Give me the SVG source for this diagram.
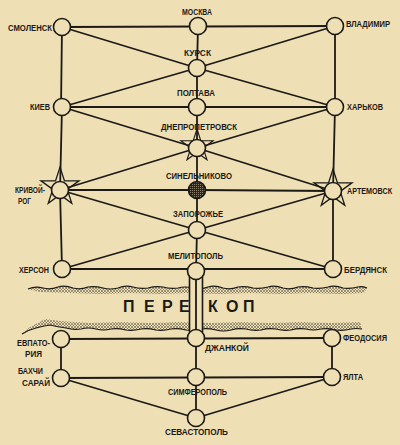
<svg xmlns="http://www.w3.org/2000/svg" width="400" height="445" viewBox="0 0 400 445">
<style>
.bg{fill:#eedfb5}
.ln{stroke:#1c1a16;stroke-width:1.8;fill:none;stroke-linecap:round}
.nd{fill:#eedfb5;stroke:#1c1a16;stroke-width:1.6}
.st{fill:none;stroke:#1c1a16;stroke-width:1.3;stroke-linejoin:miter}
.lb{font-family:"Liberation Sans",Arial,sans-serif;font-weight:bold;font-size:9px;fill:#1c1a16}
.big{font-family:"Liberation Sans",Arial,sans-serif;font-weight:bold;font-size:16px;fill:#1c1a16}
.shore{stroke:#1c1a16;stroke-width:1.2;fill:none}
.hat{fill:url(#hatch);stroke:none;opacity:0.85}
</style>
<defs>
<pattern id="hatch" width="3" height="3" patternUnits="userSpaceOnUse">
<path d="M0,3 L3,0 M0,0 L3,3" stroke="#4a4438" stroke-width="0.6"/>
</pattern>
<pattern id="mesh" width="2" height="2" patternUnits="userSpaceOnUse">
<rect width="2" height="2" fill="#2a2622"/>
<rect width="1" height="1" fill="#8a8070"/>
</pattern>
<polygon id="star" points="0,-20 4.47,-6.15 19.02,-6.18 7.23,2.35 11.76,16.18 0,7.6 -11.76,16.18 -7.23,2.35 -19.02,-6.18 -4.47,-6.15"/>
</defs>
<rect class="bg" x="0" y="0" width="400" height="445"/>

<g id="perekop">
<path class="hat" d="M28,289 Q35,286 43,288 Q50,290 58,287 Q65,285 73,288 Q80,290 88,287 Q95,286 103,288 Q110,290 118,288 Q125,285 133,287 Q140,289 148,288 Q155,286 163,287 Q170,289 178,288 Q185,286 193,288 Q200,290 208,287 Q215,285 223,288 Q230,290 238,287 Q245,286 253,288 Q260,289 268,287 Q275,285 283,288 Q290,290 298,287 Q305,286 313,288 Q320,289 328,287 Q335,285 343,288 Q350,289 358,287 Q362,286 367,288 L364,293 L340,294 L310,293 L280,294 L250,293 L220,294 L190,293 L160,294 L130,293 L100,294 L70,293 L40,292 Z"/>
<path class="shore" d="M28,289 Q35,286 43,288 Q50,290 58,287 Q65,285 73,288 Q80,290 88,287 Q95,286 103,288 Q110,290 118,288 Q125,285 133,287 Q140,289 148,288 Q155,286 163,287 Q170,289 178,288 Q185,286 193,288 Q200,290 208,287 Q215,285 223,288 Q230,290 238,287 Q245,286 253,288 Q260,289 268,287 Q275,285 283,288 Q290,290 298,287 Q305,286 313,288 Q320,289 328,287 Q335,285 343,288 Q350,289 358,287 Q362,286 367,288"/>
<path class="hat" d="M22,334 Q28,330 36,328 Q43,326 50,325 Q58,327 66,328 Q73,330 81,329 Q88,327 96,329 Q103,331 111,329 Q118,328 126,330 Q133,331 141,329 Q148,328 156,330 Q163,331 171,329 Q178,328 186,330 Q193,331 201,329 Q208,328 216,330 Q223,332 231,330 Q238,328 246,329 Q253,331 261,330 Q268,328 276,329 Q283,331 291,330 Q298,328 306,329 Q313,331 321,329 Q328,328 336,330 Q343,331 351,329 Q356,328 362,329 L360,322 L330,323 L300,322 L270,323 L240,322 L210,323 L180,322 L150,323 L120,322 L90,323 L60,321 L45,319 L30,327 Z"/>
<path class="shore" d="M22,334 Q28,330 36,328 Q43,326 50,325 Q58,327 66,328 Q73,330 81,329 Q88,327 96,329 Q103,331 111,329 Q118,328 126,330 Q133,331 141,329 Q148,328 156,330 Q163,331 171,329 Q178,328 186,330 Q193,331 201,329 Q208,328 216,330 Q223,332 231,330 Q238,328 246,329 Q253,331 261,330 Q268,328 276,329 Q283,331 291,330 Q298,328 306,329 Q313,331 321,329 Q328,328 336,330 Q343,331 351,329 Q356,328 362,329"/>
<text class="big" x="123 144 162 179 208 226 243" y="312">ПЕРЕКОП</text>
</g>

<g id="connectors">
<line class="ln" x1="62" y1="27" x2="335" y2="26"/>
<line class="ln" x1="62" y1="27" x2="197" y2="68"/>
<line class="ln" x1="335" y1="26" x2="197" y2="68"/>
<line class="ln" x1="62" y1="107" x2="197" y2="68"/>
<line class="ln" x1="335" y1="107" x2="197" y2="68"/>
<line class="ln" x1="62" y1="107" x2="335" y2="107"/>
<line class="ln" x1="62" y1="107" x2="197" y2="148"/>
<line class="ln" x1="335" y1="107" x2="197" y2="148"/>
<line class="ln" x1="62" y1="27" x2="61" y2="107"/>
<line class="ln" x1="62" y1="107" x2="60" y2="190"/>
<line class="ln" x1="60" y1="190" x2="62" y2="269"/>
<line class="ln" x1="335" y1="26" x2="335" y2="107"/>
<line class="ln" x1="335" y1="107" x2="333" y2="191"/>
<line class="ln" x1="333" y1="191" x2="333" y2="269"/>
<line class="ln" x1="198" y1="26" x2="197" y2="68"/>
<line class="ln" x1="197" y1="68" x2="197" y2="230"/>
<line class="ln" x1="197" y1="230" x2="196" y2="271"/>
<line class="ln" x1="60" y1="190" x2="197" y2="148"/>
<line class="ln" x1="60" y1="190" x2="197" y2="190"/>
<line class="ln" x1="60" y1="190" x2="197" y2="230"/>
<line class="ln" x1="333" y1="191" x2="197" y2="148"/>
<line class="ln" x1="333" y1="191" x2="197" y2="190"/>
<line class="ln" x1="333" y1="191" x2="197" y2="230"/>
<line class="ln" x1="62" y1="269" x2="197" y2="230"/>
<line class="ln" x1="333" y1="269" x2="197" y2="230"/>
<line class="ln" x1="62" y1="269" x2="333" y2="269"/>
<rect x="189.5" y="271" width="13" height="67" rx="6.5" fill="#eedfb5" stroke="#1c1a16" stroke-width="1.6"/>
<line class="ln" x1="196" y1="271" x2="196" y2="338"/>
<line class="ln" x1="61" y1="339" x2="332" y2="338"/>
<line class="ln" x1="61" y1="339" x2="61" y2="378"/>
<line class="ln" x1="332" y1="338" x2="332" y2="377"/>
<line class="ln" x1="196" y1="338" x2="196" y2="418"/>
<line class="ln" x1="61" y1="378" x2="332" y2="377"/>
<line class="ln" x1="61" y1="378" x2="196" y2="418"/>
<line class="ln" x1="332" y1="377" x2="196" y2="418"/>
</g>

<g id="smolensk"><circle class="nd" cx="62" cy="27" r="8.5"/><text class="lb" x="8" y="31" textLength="44" lengthAdjust="spacingAndGlyphs">СМОЛЕНСК</text></g>
<g id="moskva"><circle class="nd" cx="198" cy="26" r="8.5"/><text class="lb" x="182" y="15" textLength="30" lengthAdjust="spacingAndGlyphs">МОСКВА</text></g>
<g id="vladimir"><circle class="nd" cx="335" cy="26" r="8.5"/><text class="lb" x="346" y="27" textLength="44" lengthAdjust="spacingAndGlyphs">ВЛАДИМИР</text></g>
<g id="kursk"><circle class="nd" cx="197" cy="68" r="8.5"/><text class="lb" x="184" y="56" textLength="27" lengthAdjust="spacingAndGlyphs">КУРСК</text></g>
<g id="kiev"><circle class="nd" cx="62" cy="107" r="8.5"/><text class="lb" x="30" y="110" textLength="20" lengthAdjust="spacingAndGlyphs">КИЕВ</text></g>
<g id="poltava"><circle class="nd" cx="197" cy="107" r="8.5"/><text class="lb" x="177" y="96" textLength="38" lengthAdjust="spacingAndGlyphs">ПОЛТАВА</text></g>
<g id="kharkov"><circle class="nd" cx="335" cy="107" r="8.5"/><text class="lb" x="347" y="110" textLength="36" lengthAdjust="spacingAndGlyphs">ХАРЬКОВ</text></g>
<g id="dnepropetrovsk"><use href="#star" class="st" transform="translate(197,146) scale(0.85)"/><circle class="nd" cx="197" cy="148" r="8.5"/><text class="lb" x="161" y="130" textLength="76" lengthAdjust="spacingAndGlyphs">ДНЕПРОПЕТРОВСК</text></g>
<g id="krivoy-rog"><use href="#star" class="st" transform="translate(60,187)"/><circle class="nd" cx="60" cy="190" r="8.5"/><text class="lb" x="15" y="193" textLength="30" lengthAdjust="spacingAndGlyphs">КРИВОЙ-</text><text class="lb" x="18" y="204" textLength="13" lengthAdjust="spacingAndGlyphs">РОГ</text></g>
<g id="sinelnikovo"><circle cx="197" cy="190" r="8.5" fill="url(#mesh)" stroke="#1c1a16" stroke-width="1.6"/><text class="lb" x="166" y="179" textLength="66" lengthAdjust="spacingAndGlyphs">СИНЕЛЬНИКОВО</text></g>
<g id="artemovsk"><use href="#star" class="st" transform="translate(333,189)"/><circle class="nd" cx="333" cy="191" r="8.5"/><text class="lb" transform="translate(347,194) scale(0.8,1)" x="0" y="0">АРТЕМОВСК</text></g>
<g id="zaporozhye"><circle class="nd" cx="197" cy="230" r="8.5"/><text class="lb" x="173" y="217" textLength="50" lengthAdjust="spacingAndGlyphs">ЗАПОРОЖЬЕ</text></g>
<g id="kherson"><circle class="nd" cx="62" cy="269" r="8.5"/><text class="lb" x="19" y="273" textLength="30" lengthAdjust="spacingAndGlyphs">ХЕРСОН</text></g>
<g id="melitopol"><circle class="nd" cx="196" cy="271" r="8.5"/><text class="lb" x="168" y="259" textLength="55" lengthAdjust="spacingAndGlyphs">МЕЛИТОПОЛЬ</text></g>
<g id="berdyansk"><circle class="nd" cx="333" cy="269" r="8.5"/><text class="lb" x="344" y="273" textLength="43" lengthAdjust="spacingAndGlyphs">БЕРДЯНСК</text></g>
<g id="dzhankoy"><circle class="nd" cx="196" cy="338" r="8.5"/><text class="lb" x="205" y="351" textLength="44" lengthAdjust="spacingAndGlyphs">ДЖАНКОЙ</text></g>
<g id="evpatoria"><circle class="nd" cx="61" cy="339" r="8.5"/><text class="lb" x="17" y="346" textLength="33" lengthAdjust="spacingAndGlyphs">ЕВПАТО-</text><text class="lb" x="25" y="357" textLength="17" lengthAdjust="spacingAndGlyphs">РИЯ</text></g>
<g id="feodosia"><circle class="nd" cx="332" cy="338" r="8.5"/><text class="lb" x="343" y="341" textLength="44" lengthAdjust="spacingAndGlyphs">ФЕОДОСИЯ</text></g>
<g id="bakhchisaray"><circle class="nd" cx="61" cy="378" r="8.5"/><text class="lb" x="18" y="374" textLength="25" lengthAdjust="spacingAndGlyphs">БАХЧИ</text><text class="lb" x="22" y="386" textLength="28" lengthAdjust="spacingAndGlyphs">САРАЙ</text></g>
<g id="simferopol"><circle class="nd" cx="196" cy="377" r="8.5"/><text class="lb" x="168" y="395" textLength="59" lengthAdjust="spacingAndGlyphs">СИМФЕРОПОЛЬ</text></g>
<g id="yalta"><circle class="nd" cx="332" cy="377" r="8.5"/><text class="lb" x="343" y="380" textLength="20" lengthAdjust="spacingAndGlyphs">ЯЛТА</text></g>
<g id="sevastopol"><circle class="nd" cx="196" cy="418" r="8.5"/><text class="lb" x="165" y="435" textLength="63" lengthAdjust="spacingAndGlyphs">СЕВАСТОПОЛЬ</text></g>
</svg>
